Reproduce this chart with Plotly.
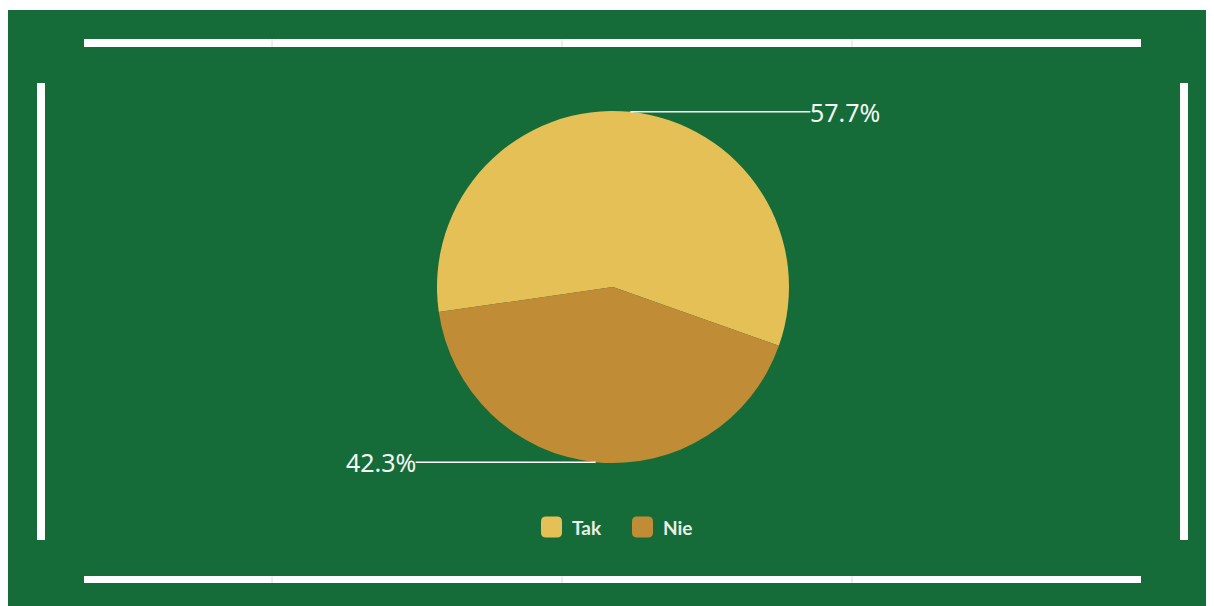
import math
import plotly.graph_objects as go

# ---- data ----
categories = ["Tak", "Nie"]
values = [57.7, 42.3]
slice_colors = ["#e4c057", "#c18c36"]
label_texts = ["57.7%", "42.3%"]

# ---- style / layout constants (pixels, in window coordinates) ----
OFF = 8  # page body margin
W, H = 1214 - OFF, 606 - OFF
BG_GREEN = "#166c38"
CX, CY, R = 613, 287, 176
ROTATION = -98.2
LEADER_LEN = 180
TEXT_COLOR = "#f4f7f4"


def fx(px):
    return (px - OFF) / W


def fy(py):
    return 1 - (py - OFF) / H


fig = go.Figure()
fig.add_trace(go.Pie(
    labels=categories,
    values=values,
    marker=dict(colors=slice_colors, line=dict(width=0)),
    sort=False,
    direction="clockwise",
    rotation=ROTATION,
    textinfo="none",
    hoverinfo="label+percent",
    showlegend=False,
    domain=dict(x=[fx(CX - R), fx(CX + R)], y=[fy(CY + R), fy(CY - R)]),
))

shapes = []
# green panel (white strip left/top)
shapes.append(dict(type="rect", xref="paper", yref="paper", x0=0, x1=1, y0=0, y1=fy(10),
                   fillcolor=BG_GREEN, line=dict(width=0), layer="below"))
# frame bars
for (x0, y0, x1, y1) in [(84, 39, 1141, 47), (84, 576, 1141, 583), (37, 83, 45, 540), (1180, 83, 1188, 540)]:
    shapes.append(dict(type="rect", xref="paper", yref="paper", x0=fx(x0), x1=fx(x1), y0=fy(y1), y1=fy(y0),
                       fillcolor="white", line=dict(width=0), layer="below"))
# faint separators on the bars
for gx in [272, 562, 852]:
    for (y0, y1) in [(39, 47), (576, 583)]:
        shapes.append(dict(type="line", xref="paper", yref="paper", x0=fx(gx), x1=fx(gx), y0=fy(y1), y1=fy(y0),
                           line=dict(color="#dcdcdc", width=1), layer="above"))

annotations = []
# leader lines + labels from data
total = sum(values)
start = ROTATION
for v, txt in zip(values, label_texts):
    span = 360 * v / total
    mid = math.radians(start + span / 2)
    start += span
    px = CX + R * math.sin(mid)
    py = CY - R * math.cos(mid)
    side = 1 if math.sin(mid) >= 0 else -1
    ex = px + side * LEADER_LEN
    shapes.append(dict(type="line", xref="paper", yref="paper", x0=fx(px), x1=fx(ex), y0=fy(py), y1=fy(py),
                       line=dict(color="white", width=1.5), layer="above"))
    annotations.append(dict(xref="paper", yref="paper", x=fx(ex - side * 2), y=fy(py), text=txt, showarrow=False,
                            xanchor="left" if side > 0 else "right", yanchor="middle",
                            font=dict(family="Noto Sans", size=25, color=TEXT_COLOR)))

# custom legend
LEG_X0, LEG_Y, SW, STEP = 541, 527, 21, 91
for i, (cat, col) in enumerate(zip(categories, slice_colors)):
    x0 = LEG_X0 + i * STEP
    x1 = x0 + SW
    y0 = LEG_Y - SW / 2
    y1 = LEG_Y + SW / 2
    r = 5
    path = (f"M {fx(x0 + r)},{fy(y0)} L {fx(x1 - r)},{fy(y0)} Q {fx(x1)},{fy(y0)} {fx(x1)},{fy(y0 + r)} "
            f"L {fx(x1)},{fy(y1 - r)} Q {fx(x1)},{fy(y1)} {fx(x1 - r)},{fy(y1)} "
            f"L {fx(x0 + r)},{fy(y1)} Q {fx(x0)},{fy(y1)} {fx(x0)},{fy(y1 - r)} "
            f"L {fx(x0)},{fy(y0 + r)} Q {fx(x0)},{fy(y0)} {fx(x0 + r)},{fy(y0)} Z")
    shapes.append(dict(type="path", xref="paper", yref="paper", path=path, fillcolor=col,
                       line=dict(width=0), layer="above"))
    annotations.append(dict(xref="paper", yref="paper", x=fx(x1 + 8), y=fy(LEG_Y), text=f"<b>{cat}</b>",
                            showarrow=False, xanchor="left", yanchor="middle",
                            font=dict(family="Lato", size=19, color="#e8efe8")))

fig.update_layout(
    width=W, height=H,
    margin=dict(l=0, r=0, t=0, b=0),
    paper_bgcolor="white",
    plot_bgcolor="white",
    shapes=shapes,
    annotations=annotations,
    showlegend=False,
)

fig.write_html("out.html")
